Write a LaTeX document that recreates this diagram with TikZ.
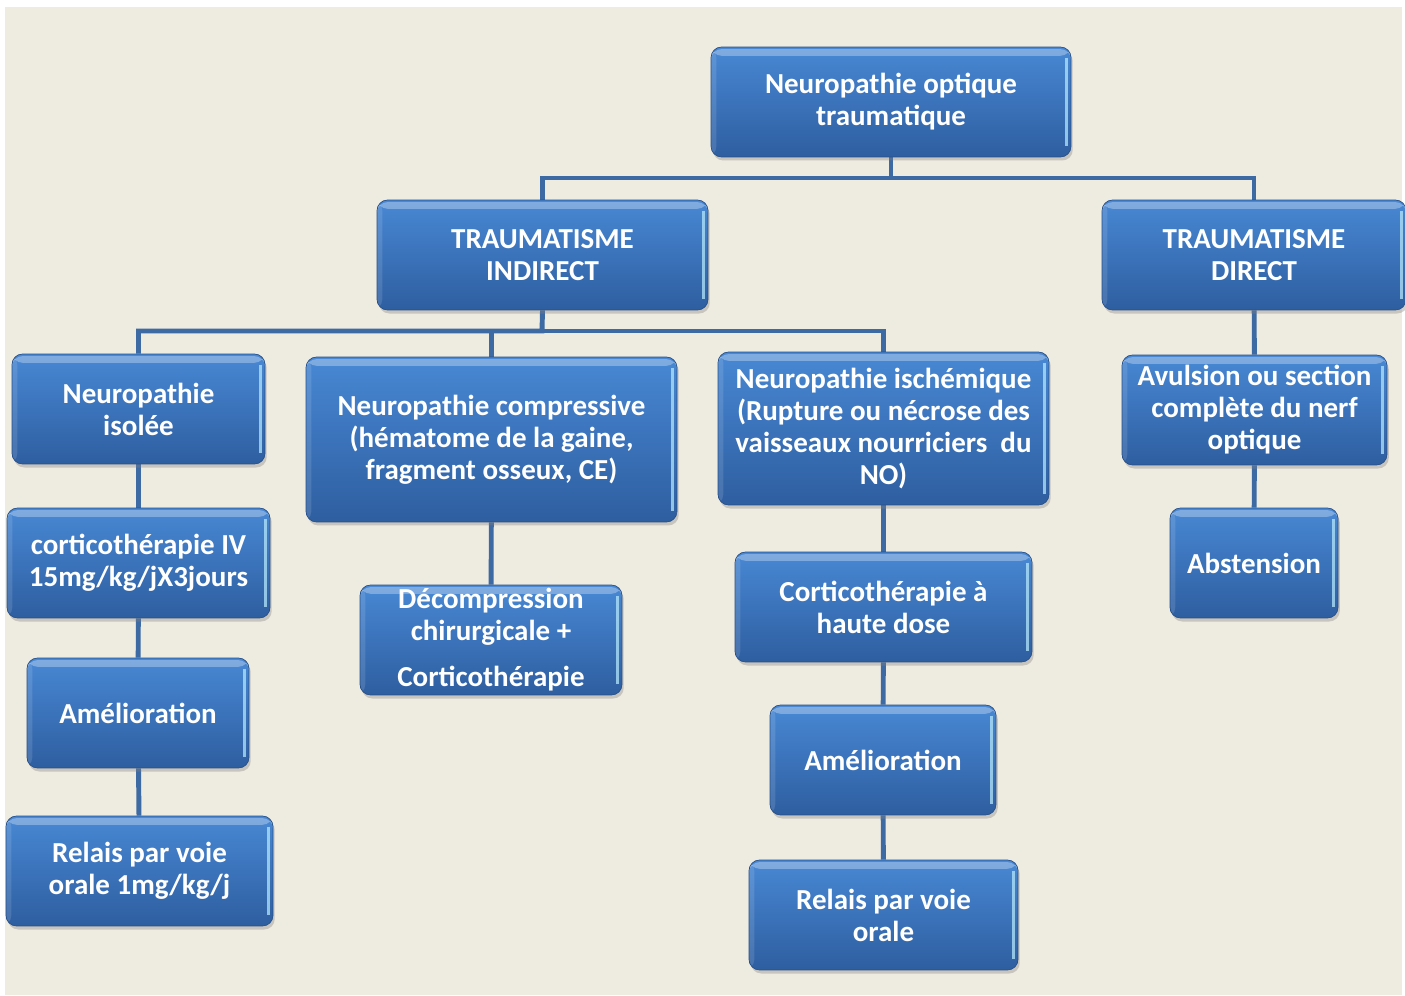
\documentclass[tikz,border=0pt]{standalone}
\usepackage{fontspec}
\setmainfont{Carlito}
\usepackage{tikz}
\usetikzlibrary{positioning, backgrounds, shadows}
\definecolor{beige}{RGB}{238,235,224}
\definecolor{boxtop}{RGB}{72,136,212}
\definecolor{boxbottom}{RGB}{46,94,160}
\definecolor{linkblue}{RGB}{62,106,164}
\tikzset{
	boxtext/.style={font=\bfseries\fontsize{16.5}{18.2}\selectfont\color{white}}
}

\begin{document}
\begin{tikzpicture}[x=0.02cm, y=-0.02cm]
			\tikzset{
				bluenode/.style={
						shape=rectangle,
						rounded corners=6pt,
						top color=boxtop,
						bottom color=boxbottom,
						draw=boxbottom!85!black,
						line width=0.4pt,
						align=center,
						inner sep=2pt,
						boxtext,
						drop shadow={opacity=0.35, shadow xshift=1pt, shadow yshift=-2pt},
						path picture={
							\fill[white, opacity=0.3] ([yshift=-1.2pt]path picture bounding box.north west) rectangle ([yshift=-5pt]path picture bounding box.north east);
							\fill[white, opacity=0.12] (path picture bounding box.north west) rectangle ([xshift=3pt]path picture bounding box.south west);
							\draw[white!70!cyan, opacity=0.75, line width=1.5pt] ([xshift=-2.5pt, yshift=-6pt]path picture bounding box.north east) -- ([xshift=-2.5pt, yshift=6pt]path picture bounding box.south east);
						}
					},
				branch/.style={draw=linkblue, line width=2.8pt}
			}

			\useasboundingbox (0,0) rectangle (1405,996);

			% level 0 and 1
			\node[bluenode, minimum width=7.2cm, minimum height=2.2cm] (root) at (891,102) {Neuropathie optique\\traumatique};
			\node[bluenode, minimum width=6.62cm, minimum height=2.2cm] (indirect) at (542.5,255) {TRAUMATISME\\INDIRECT};
			\node[bluenode, minimum width=6.08cm, minimum height=2.2cm] (direct) at (1254,255) {TRAUMATISME\\DIRECT};

			% level 2
			\node[bluenode, minimum width=5.06cm, minimum height=2.2cm] (isolee) at (138.5,409) {Neuropathie\\isolée};
			\node[bluenode, minimum width=7.42cm, minimum height=3.3cm] (compressive) at (491.5,439.5) {Neuropathie compressive\\(hématome de la gaine,\\fragment osseux, CE)};
			\node[bluenode, minimum width=6.62cm, minimum height=3.06cm] (ischemique) at (883.5,428.5) {Neuropathie ischémique\\(Rupture ou nécrose des\\vaisseaux nourriciers\ \ du\\NO)};
			\node[bluenode, minimum width=5.3cm, minimum height=2.2cm] (avulsion) at (1254.5,410) {Avulsion ou section\\complète du nerf\\optique};

			% level 3
			\node[bluenode, minimum width=5.26cm, minimum height=2.2cm] (corticoiv) at (138.5,563) {corticothérapie IV\\15mg/kg/jX3jours};
			\node[bluenode, minimum width=5.24cm, minimum height=2.2cm] (decomp) at (491,640) {Décompression\\chirurgicale +\\[8pt]Corticothérapie};
			\node[bluenode, minimum width=5.94cm, minimum height=2.2cm] (corticohd) at (883.5,607) {Corticothérapie à\\haute dose};
			\node[bluenode, minimum width=3.36cm, minimum height=2.2cm] (abstension) at (1254,563) {Abstension};

			% level 4 and 5
			\node[bluenode, minimum width=4.44cm, minimum height=2.2cm] (amelio1) at (138,713) {Amélioration};
			\node[bluenode, minimum width=4.52cm, minimum height=2.2cm] (amelio2) at (883,760) {Amélioration};
			\node[bluenode, minimum width=5.34cm, minimum height=2.2cm] (relais1) at (139.5,871) {Relais par voie\\orale 1mg/kg/j};
			\node[bluenode, minimum width=5.38cm, minimum height=2.2cm] (relais2) at (883.5,915) {Relais par voie\\orale};

			\coordinate (busa) at (891,178);
			\coordinate (busb) at (542,331);

			\begin{scope}[on background layer]
				\fill[white] (0,0) rectangle (1405,996);
				\fill[beige] (5,7) rectangle (1402,995);

				\draw[branch] (root.south) -- (busa) -| (indirect.north);
				\draw[branch] (busa) -| (direct.north);
				\draw[branch] (indirect.south) -- (busb) -| (isolee.north);
				\draw[branch] (busb) -| (compressive.north);
				\draw[branch] (busb) -| (ischemique.north);

				\draw[branch] (isolee) -- (corticoiv);
				\draw[branch] (corticoiv) -- (amelio1);
				\draw[branch] (amelio1) -- (relais1);
				\draw[branch] (compressive) -- (decomp);
				\draw[branch] (ischemique) -- (corticohd);
				\draw[branch] (corticohd) -- (amelio2);
				\draw[branch] (amelio2) -- (relais2);
				\draw[branch] (direct) -- (avulsion);
				\draw[branch] (avulsion) -- (abstension);
			\end{scope}
		\end{tikzpicture}
\end{document}
